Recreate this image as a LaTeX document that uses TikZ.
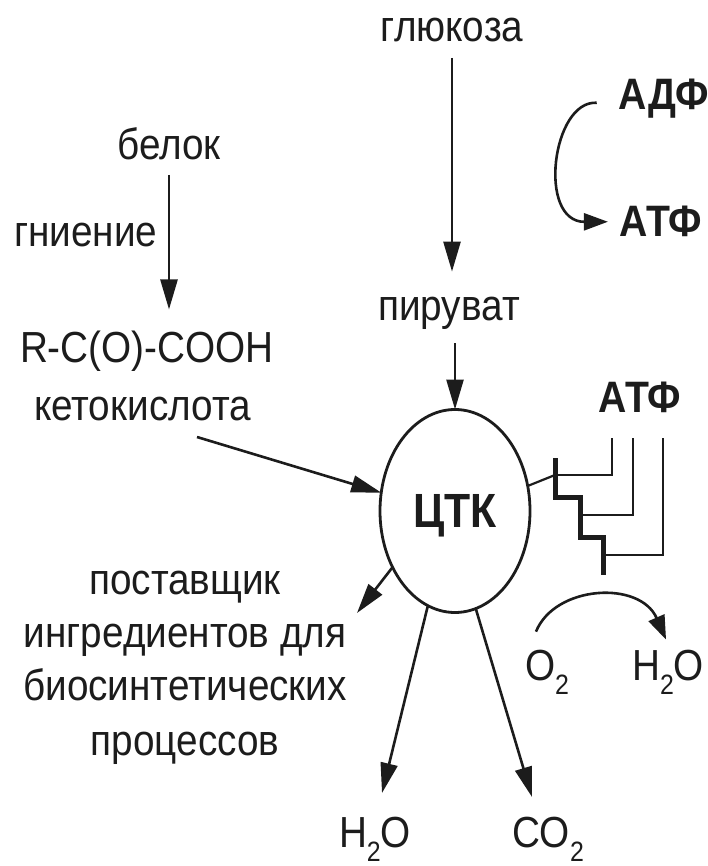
\documentclass[tikz,border=0pt]{standalone}
\usepackage{fontspec}
\setmainfont{Liberation Sans}[FakeStretch=0.89]
\usetikzlibrary{arrows.meta,shapes.geometric}
\definecolor{ink}{RGB}{28,28,28}
\newcommand{\lowsub}[1]{\raisebox{-14pt}{\fontsize{28}{28}\selectfont #1}}
\begin{document}
\begin{tikzpicture}[x=1pt,y=-1pt,
  txt/.style={inner sep=0pt,outer sep=0pt,text depth=0pt,anchor=base,text=ink,font=\fontsize{43.5}{50}\selectfont},
  btxt/.style={txt,font=\fontsize{44}{50}\selectfont\bfseries},
  arr/.style={draw=ink,line width=2.6pt,-{Triangle[length=30pt,width=17pt]}},
  curv/.style={draw=ink,line width=2.6pt,-{Triangle[length=24pt,width=17pt]}},
  thinstep/.style={draw=ink,line width=2.2pt},
  thickstep/.style={draw=ink,line width=5pt}]
\useasboundingbox (0,0) rectangle (708,866);

% texts
\node[txt] (glu) at (452,42) {глюкоза};
\node[txt] (belok) at (169,160) {белок};
\node[txt,anchor=base west] (gnie) at (14,247) {гниение};
\node[txt] (pir) at (449,320) {пируват};
\node[txt,anchor=base west] (rc) at (20,362) {R-C(O)-COOH};
\node[txt,anchor=base west] (ket) at (34,420) {кетокислота};
\node[btxt] (adp) at (664,110) {АДФ};
\node[btxt] (atp1) at (661,237) {АТФ};
\node[btxt] (atp2) at (640,412) {АТФ};
\node[draw=ink,line width=2.8pt,ellipse,minimum width=150pt,minimum height=203pt,
      inner sep=0pt,outer sep=0pt,text depth=0pt,text=ink,
      font=\fontsize{48}{50}\selectfont\bfseries] (ctk) at (455,511) {ЦТК};
\node[txt] (s1) at (185,594) {поставщик};
\node[txt] (s2) at (185,647) {ингредиентов для};
\node[txt] (s3) at (185,700) {биосинтетических};
\node[txt] (s4) at (185,755) {процессов};
\node[txt,anchor=base west] (o2) at (525,680) {O\lowsub{2}};
\node[txt,anchor=base east] (h2or) at (704,680) {H\lowsub{2}O};
\node[txt,anchor=base west] (h2ob) at (339,847) {H\lowsub{2}O};
\node[txt,anchor=base west] (co2) at (512,847) {CO\lowsub{2}};

% free ends
\coordinate (kstart) at (197,437);
\coordinate (sup) at (357,613);
\coordinate (tipH) at (382,793);
\coordinate (tipC) at (532,797);
\coordinate (st) at (555,475);

% arrows
\draw[arr,shorten <=15pt,shorten >=21pt] (belok.south) -- (belok.south |- rc.north);
\draw[arr,shorten <=16pt,shorten >=25pt] (glu.south) -- (glu.south |- pir.north);
\draw[arr,shorten <=23pt] (pir.south -| ctk.north) -- (ctk.north);
\draw[arr] (kstart) -- (ctk.166.5);
\draw[arr] (ctk.222) -- (sup);
\draw[arr] (ctk.254.7) -- (tipH);
\draw[arr] (ctk.282.5) -- (tipC);

% ADP -> ATP
\draw[curv] ([xshift=-22pt,yshift=-8pt]adp.west) .. controls (552,100) and (537,222) .. ([xshift=-12pt]atp1.west);
% O2 -> H2O
\draw[curv] ([xshift=-11pt,yshift=18pt]o2.north) .. controls (555,585) and (640,580) .. ([xshift=-2pt,yshift=10pt]h2or.north);

% ATP staircase
\draw[thinstep] (ctk.19.6) -- (st);
\draw[thinstep] (612,438) -- (612,475) -- (555,475);
\draw[thinstep] (633,438) -- (633,515) -- (580,515);
\draw[thinstep] (663,438) -- (663,555) -- (602,555);
\draw[thickstep] (555,458) -- (555,497) -- (580,497) -- (580,537) -- (603,537) -- (603,575);
\end{tikzpicture}
\end{document}
